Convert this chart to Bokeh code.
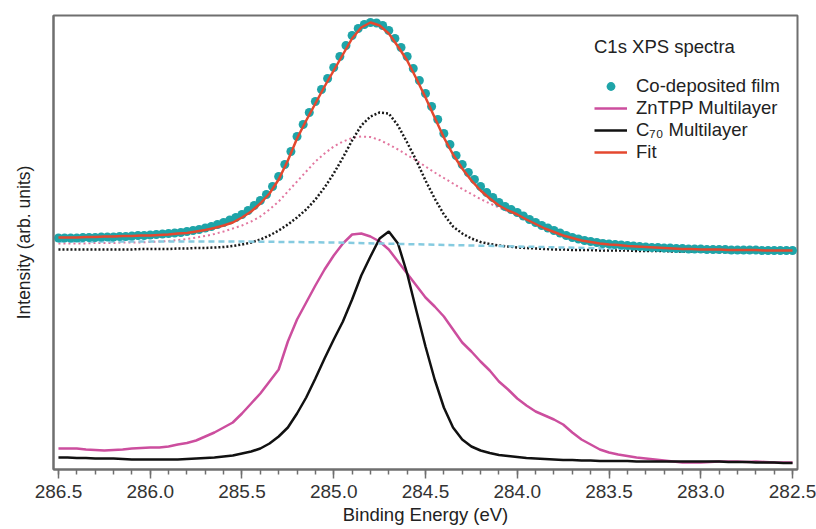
import numpy as np
from bokeh.plotting import figure
from bokeh.models import (Range1d, SingleIntervalTicker, FixedTicker, PrintfTickFormatter,
                          Legend, LegendItem, ColumnDataSource)
from bokeh.embed import file_html
from bokeh.resources import INLINE

# ---- data (binding energy in eV, intensity in arbitrary units) ----
# measured co-deposited film, sampled every 1/30 eV
data_energy = np.linspace(286.5, 282.5, 121)
co_deposited = [
    231.5, 231.5, 231.5, 231.5, 232, 232, 232, 232.5, 232.5, 232.5,
    233, 233, 233.5, 234, 234, 234.5, 235, 235.5, 236, 236.5,
    237, 238, 239, 240, 241.5, 243, 245, 247, 249.5, 252,
    255, 259, 264, 269, 275, 283, 293, 305, 318, 333,
    345, 357, 368, 380, 391, 402, 413, 424, 434, 441,
    445, 447, 446.5, 444, 439, 431, 422, 413, 401, 389,
    376, 363, 350, 336, 325, 314, 305, 297, 290, 283,
    277, 272, 267, 263, 260, 257, 253.5, 250, 247, 244,
    241.5, 239, 236.5, 234, 232, 230.5, 229, 228, 227, 226,
    225.5, 225, 224.5, 224, 223.5, 223, 222.5, 222, 222, 221.5,
    221.5, 221, 221, 220.5, 220.5, 220.5, 220, 220, 220, 220,
    219.5, 219.5, 219.5, 219.5, 219.5, 219, 219, 219, 219, 219,
    219]

# fit, components and reference multilayers, sampled every 0.05 eV
energy = np.round(np.linspace(286.5, 282.5, 81), 2)

fit = [
    232, 232, 232, 232.5, 232.5, 233, 233, 233.5, 233.5, 234,
    234, 234.5, 235, 236, 236.5, 238, 239.5, 241.5, 244, 247,
    252, 258, 266, 276, 290, 309, 331, 349, 366, 383,
    399, 415, 431, 442, 447, 444, 436, 423, 409, 391,
    372, 352, 332, 315, 301, 289, 279, 271, 264, 259,
    255, 250, 245.5, 241, 237.5, 234, 231.5, 229, 227.5, 226,
    225, 224.5, 223.5, 223, 222.5, 222, 221.5, 221, 220.5, 220.5,
    220, 220, 220, 219.5, 219.5, 219.5, 219.5, 219, 219, 219,
    219]

zntpp_component = [
    226, 226, 226, 226, 226.5, 226.5, 226.5, 227, 227, 227,
    227.5, 228, 228.5, 229.5, 230.5, 232, 233.5, 235.5, 238, 241,
    244, 248, 253, 260, 268, 278, 288, 298, 308, 316,
    323, 328, 331.5, 333, 332.5, 329.5, 325, 320, 314.5, 309,
    303, 297, 291.5, 286, 280.5, 275.5, 270.5, 266, 262, 258,
    254, 250, 246, 242.5, 239.5, 237, 234.5, 232.5, 230.5, 229,
    227.5, 226, 225, 224, 223, 222.5, 222, 221.5, 221, 220.5,
    220, 220, 219.5, 219.5, 219, 219, 219, 219, 218.5, 218.5,
    218.5]

c70_component = [
    220, 220, 220, 220, 220, 220, 220, 220, 220, 220.5,
    220.5, 220.5, 220.5, 221, 221, 221.5, 221.5, 222, 222.5, 223.5,
    225, 227, 230, 234, 239, 245, 252, 260, 270, 282,
    296, 312, 329, 344, 353, 357, 356, 344, 327, 309,
    289, 271, 255, 243, 236, 231, 227.5, 225.5, 224, 223,
    222, 221.5, 221, 220.5, 220, 220, 219.5, 219.5, 219.5, 219,
    219, 219, 219, 218.5, 218.5, 218.5, 218.5, 218, 218, 218,
    218, 218, 217.5, 217.5, 217.5, 217.5, 217.5, 217, 217, 217,
    217]

zntpp_multilayer = [
    21, 21, 21, 20, 19.5, 19, 19.5, 20, 21, 21.5,
    22, 22, 23, 25, 26.5, 29, 33, 37, 42, 47,
    56, 66, 76, 88, 100, 128, 150, 167, 184, 200,
    214, 226, 235, 236, 233, 228, 220, 208, 196, 184,
    172, 163, 153, 140, 127, 118, 108, 99, 88, 80,
    71, 64, 58, 54, 50, 45, 37, 30, 25, 20,
    17, 15, 13.5, 12, 11, 10, 9, 8, 7, 7,
    7, 7.5, 8, 8, 8, 7.5, 8, 7.5, 7, 7,
    7]

c70_multilayer = [
    12, 12, 11.5, 11.5, 11, 11, 11, 10.5, 10, 10,
    10, 10, 10, 10, 10.5, 11, 11.5, 12, 13, 14,
    16, 18, 21, 26, 33, 42, 56, 72, 91, 111,
    130, 148, 170, 194, 213, 231, 238, 226, 196, 159,
    123, 90, 62, 42, 30, 23, 19, 16.5, 14.5, 13.5,
    12.5, 11.5, 11, 10.5, 10, 9.5, 9.5, 9, 9, 8.5,
    8.5, 8.5, 8.5, 8, 8, 8, 8, 8, 8, 8,
    8, 8, 8, 7.5, 7.5, 7.5, 7, 7, 7, 6.5,
    6.5]

bg_energy = [286.5, 286.0, 285.5, 285.0, 284.5, 284.0, 283.5, 283.0, 282.5]
background = [228, 228, 228, 227, 225, 223, 221, 219.5, 218.5]

x_ticks_step = 0.5
title_text = "C1s XPS spectra"
legend_labels = ["Co-deposited film", "ZnTPP Multilayer", "C\u2087\u2080 Multilayer", "Fit"]

FONT = "Liberation Sans"
FRAME_GRAY = "#6f6f6f"

src = ColumnDataSource(dict(e=energy, fit=fit, zn=zntpp_component, c70=c70_component,
                            znm=zntpp_multilayer, c70m=c70_multilayer))
data_src = ColumnDataSource(dict(e=data_energy, data=co_deposited))
bg_src = ColumnDataSource(dict(e=bg_energy, bg=background))

p = figure(width=816, height=529, x_range=Range1d(286.527, 282.473), y_range=Range1d(0, 454),
           output_backend="svg", toolbar_location=None,
           min_border_left=53, min_border_right=19, min_border_top=15, min_border_bottom=60)
p.xgrid.visible = False
p.ygrid.visible = False
p.outline_line_color = FRAME_GRAY
p.outline_line_width = 2
p.background_fill_color = "white"
p.border_fill_color = "white"

# bottom reference spectra
r_znm = p.line("e", "znm", source=src, line_color="#cc4e9e", line_width=2.5)
r_c70m = p.line("e", "c70m", source=src, line_color="#111111", line_width=2.5)

# fit components and background
p.line("e", "zn", source=src, line_color="#e2769f", line_width=2, line_dash="2 3")
p.line("e", "c70", source=src, line_color="#1a1a1a", line_width=2.5, line_dash="2 2")
p.line("e", "bg", source=bg_src, line_color="#86cbe0", line_width=2.5, line_dash="6 4")

# measured data and fit
r_data = p.scatter("e", "data", source=data_src, marker="circle", size=9,
                   fill_color="#1ea4a8", line_color="#1ea4a8", line_width=0)
r_fit = p.line("e", "fit", source=src, line_color="#e4482f", line_width=2.5)

# axes
xa = p.xaxis[0]
xa.ticker = SingleIntervalTicker(interval=x_ticks_step, num_minor_ticks=5)
xa.formatter = PrintfTickFormatter(format="%.1f")
xa.axis_label = "Binding Energy (eV)"
xa.axis_line_color = FRAME_GRAY
xa.axis_line_width = 2
xa.major_tick_in = 0
xa.major_tick_out = 9
xa.minor_tick_in = 0
xa.minor_tick_out = 5
xa.major_tick_line_color = FRAME_GRAY
xa.minor_tick_line_color = FRAME_GRAY
xa.major_tick_line_width = 1.5
xa.minor_tick_line_width = 1.5
xa.major_label_standoff = 6
xa.major_label_text_font = FONT
xa.major_label_text_font_size = "19px"
xa.major_label_text_color = "#333333"
xa.axis_label_standoff = 3
xa.axis_label_text_font = FONT
xa.axis_label_text_font_size = "18.5px"
xa.axis_label_text_font_style = "normal"
xa.axis_label_text_color = "#222222"

ya = p.yaxis[0]
ya.ticker = FixedTicker(ticks=[])
ya.axis_label = "Intensity (arb. units)"
ya.axis_line_color = FRAME_GRAY
ya.axis_line_width = 2
ya.major_tick_out = 0
ya.minor_tick_out = 0
ya.major_label_standoff = 0
ya.axis_label_standoff = 20
ya.axis_label_text_font = FONT
ya.axis_label_text_font_size = "17.5px"
ya.axis_label_text_font_style = "normal"
ya.axis_label_text_color = "#222222"

legend = Legend(items=[LegendItem(label=legend_labels[0], renderers=[r_data]),
                       LegendItem(label=legend_labels[1], renderers=[r_znm]),
                       LegendItem(label=legend_labels[2], renderers=[r_c70m]),
                       LegendItem(label=legend_labels[3], renderers=[r_fit])],
                location=(541, 306), title=title_text)
legend.border_line_color = None
legend.background_fill_alpha = 0
legend.padding = 0
legend.margin = 0
legend.spacing = 0
legend.glyph_width = 33
legend.glyph_height = 22
legend.label_height = 22
legend.label_standoff = 9
legend.label_text_font = FONT
legend.label_text_font_size = "18.5px"
legend.label_text_color = "#222222"
legend.title_text_font = FONT
legend.title_text_font_size = "18.5px"
legend.title_text_font_style = "normal"
legend.title_text_color = "#222222"
legend.title_standoff = 17
p.add_layout(legend)

open("out.html", "w").write(file_html(p, INLINE))
